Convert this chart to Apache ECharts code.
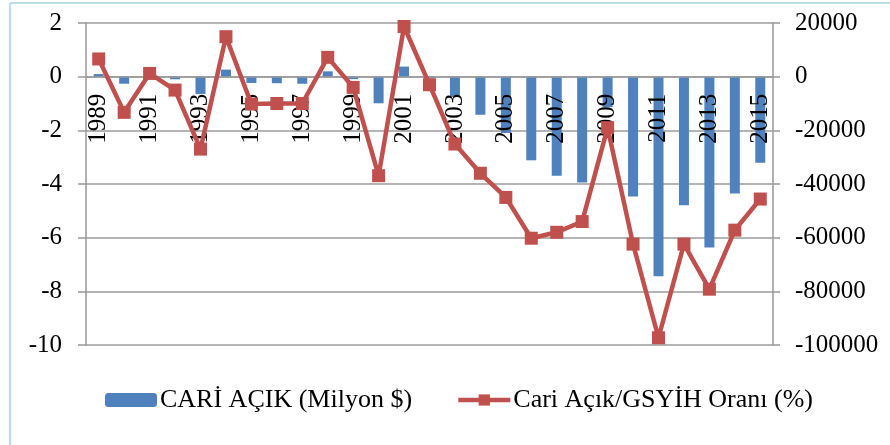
<!DOCTYPE html>
<html><head><meta charset="utf-8">
<script src="https://cdn.jsdelivr.net/npm/echarts@6/dist/echarts.min.js"></script>
<style>html,body{margin:0;padding:0;background:#fff}#c{width:890px;height:445px}</style>
</head><body><div id="c"></div>
<script>
const years = ['1989','1990','1991','1992','1993','1994','1995','1996','1997','1998','1999','2000','2001','2002','2003','2004','2005','2006','2007','2008','2009','2010','2011','2012','2013','2014','2015'];
const cariAcik = [961,-2625,250,-974,-6433,2631,-2339,-2437,-2638,1984,-925,-9920,3760,-626,-7554,-14198,-20980,-31168,-36949,-39425,-11358,-44616,-74402,-47963,-63621,-43552,-32118];
const oran = [0.66,-1.33,0.12,-0.5,-2.7,1.49,-1.02,-1.0,-1.0,0.72,-0.4,-3.69,1.87,-0.3,-2.51,-3.6,-4.5,-6.02,-5.8,-5.4,-1.9,-6.24,-9.73,-6.24,-7.92,-5.72,-4.56];
const leftTicks = {min:-10, max:2, interval:2};
const rightTicks = {min:-100000, max:20000, interval:20000};

const font = 'Liberation Serif';
const gridTop = 23, gridBottom = 100, H = 445;
const plotH = H - gridTop - gridBottom;
// move x axis (line + labels) up to the zero line of the left axis
const zeroOffset = -plotH * (0 - leftTicks.min) / (leftTicks.max - leftTicks.min);

const chart = echarts.init(document.getElementById('c'));
chart.setOption({
  animation:false,
  textStyle:{fontFamily:font},
  graphic:[
    {type:'line', shape:{x1:10,y1:3,x2:10,y2:445}, style:{stroke:'#b9dde9', lineWidth:2}},
    {type:'line', shape:{x1:10,y1:3,x2:890,y2:3}, style:{stroke:'#b9dde9', lineWidth:2}}
  ],
  legend:{
    left:100, top:382, itemGap:44, itemWidth:52, itemHeight:14,
    textStyle:{fontFamily:font, fontSize:26, color:'#000', padding:[0,0,0,-2]},
    data:[{name:'CARİ AÇIK (Milyon $)'},{name:'Cari Açık/GSYİH Oranı (%)', lineStyle:{width:4.5}}]
  },
  grid:{left:86, right:117, top:gridTop, bottom:gridBottom},
  xAxis:{
    type:'category', data:years, z:3, position:'bottom', offset:zeroOffset,
    axisLine:{onZero:false, lineStyle:{color:'#999', width:1.5}},
    axisTick:{interval:0, length:5, lineStyle:{color:'#999', width:1.5}},
    axisLabel:{interval:1, rotate:90, margin:17, fontFamily:font, fontSize:25, color:'#000'}
  },
  yAxis:[
    {type:'value', min:leftTicks.min, max:leftTicks.max, interval:leftTicks.interval,
     axisLine:{show:true, lineStyle:{color:'#999', width:1.5}},
     axisTick:{show:true, length:8, lineStyle:{color:'#999', width:1.5}},
     splitLine:{lineStyle:{color:'#9b9b9b', width:1.5}},
     axisLabel:{margin:24, fontFamily:font, fontSize:25, color:'#000'}},
    {type:'value', min:rightTicks.min, max:rightTicks.max, interval:rightTicks.interval, position:'right',
     axisLine:{show:true, lineStyle:{color:'#999', width:1.5}},
     axisTick:{show:true, length:7, lineStyle:{color:'#999', width:1.5}},
     splitLine:{show:false},
     axisLabel:{margin:22, fontFamily:font, fontSize:25, color:'#000', formatter:(v)=>String(v)}}
  ],
  series:[
    {name:'CARİ AÇIK (Milyon $)', type:'bar', yAxisIndex:1, data:cariAcik, barWidth:10, z:2,
     itemStyle:{color:'#4f81bd'}},
    {name:'Cari Açık/GSYİH Oranı (%)', type:'line', yAxisIndex:0, data:oran, z:5,
     symbol:'rect', symbolSize:13, lineStyle:{color:'#c0504d', width:4.5},
     itemStyle:{color:'#c0504d'}}
  ]
});
</script></body></html>
